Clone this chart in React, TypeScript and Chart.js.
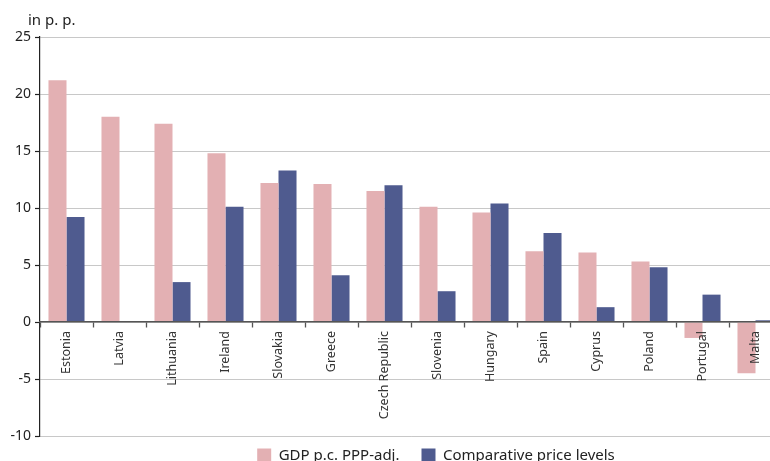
import React, { useEffect, useRef } from "react";
import { Chart, registerables } from "chart.js";

Chart.register(...registerables);

const categories = [
  "Estonia", "Latvia", "Lithuania", "Ireland", "Slovakia", "Greece", "Czech Republic",
  "Slovenia", "Hungary", "Spain", "Cyprus", "Poland", "Portugal", "Malta",
];
const gdpValues = [21.2, 18.0, 17.4, 14.8, 12.2, 12.1, 11.5, 10.1, 9.6, 6.2, 6.1, 5.3, -1.4, -4.5];
const priceValues = [9.2, null, 3.5, 10.1, 13.3, 4.1, 12.0, 2.7, 10.4, 7.8, 1.3, 4.8, 2.4, 0.15];
const seriesNames = ["GDP p.c. PPP-adj.", "Comparative price levels"];
const yTicks = [-10, -5, 0, 5, 10, 15, 20, 25];
const unitLabel = "in p. p.";

const FONT = "'Noto Sans', 'DejaVu Sans', sans-serif";

const unitLabelPlugin = {
  id: "unitLabel",
  afterDraw(chart: any) {
    const { ctx, chartArea } = chart;
    ctx.save();
    ctx.font = `15px ${FONT}`;
    ctx.fillStyle = "#222";
    ctx.textAlign = "left";
    ctx.textBaseline = "alphabetic";
    ctx.fillText(unitLabel, chartArea.left - 12, chartArea.top - 12);
    ctx.restore();
  },
};

const legendShiftPlugin = {
  id: "legendShift",
  afterLayout(chart: any) {
    const l = chart.legend;
    if (l) {
      l.left += 45;
      l.right += 45;
      l.top -= 10;
      l.bottom -= 10;
    }
  },
};

export default function App() {
  const ref = useRef<HTMLCanvasElement | null>(null);
  useEffect(() => {
    if (!ref.current) return;
    const chart = new Chart(ref.current, {
      type: "bar",
      data: {
        labels: categories,
        datasets: [
          { label: seriesNames[0], data: gdpValues, backgroundColor: "#e3b0b3", borderWidth: 0 },
          { label: seriesNames[1], data: priceValues as any, backgroundColor: "#4f5b8f", borderWidth: 0 },
        ],
      },
      options: {
        responsive: false,
        animation: false,
        devicePixelRatio: 1,
        layout: { padding: { top: 37, left: 0, right: 0, bottom: 0 } },
        datasets: { bar: { categoryPercentage: 0.68, barPercentage: 1.0 } },
        plugins: {
          title: { display: false },
          tooltip: { enabled: false },
          legend: {
            position: "bottom",
            labels: {
              boxWidth: 14,
              boxHeight: 14,
              padding: 22,
              color: "#222",
              font: { family: FONT, size: 15 },
            },
          },
        },
        scales: {
          x: {
            type: "category",
            position: { y: 0 } as any,
            offset: true,
            grid: {
              display: true,
              drawOnChartArea: false,
              drawTicks: true,
              tickLength: 5,
              offset: true,
              color: "#555",
              tickColor: "#555",
              tickWidth: 1.3,
              z: 1,
            },
            border: { display: true, color: "#555", width: 1.5, z: 1 },
            ticks: {
              minRotation: 90,
              maxRotation: 90,
              autoSkip: false,
              padding: 4,
              color: "#333",
              z: 1,
              font: { family: FONT, size: 12.5 },
            },
          },
          y: {
            type: "linear",
            position: "left",
            min: -10,
            max: 25,
            afterFit(scale: any) {
              scale.width = 40;
            },
            afterBuildTicks(scale: any) {
              scale.ticks = yTicks.map((v) => ({ value: v }));
            },
            grid: {
              color: "#c8c8c8",
              lineWidth: 1,
              tickLength: 5,
              tickColor: "#222",
              tickWidth: 1.2,
            },
            border: { display: true, color: "#222", width: 1.2 },
            ticks: {
              padding: 4,
              color: "#222",
              font: { family: FONT, size: 14 },
            },
          },
        },
      },
      plugins: [unitLabelPlugin, legendShiftPlugin],
    });
    return () => chart.destroy();
  }, []);

  return (
    <div
      style={{
        position: "fixed",
        left: 0,
        top: 0,
        width: 770,
        height: 461,
        overflow: "hidden",
        background: "#fff",
      }}
    >
      <canvas ref={ref} width={782} height={483} style={{ display: "block", width: 782, height: 483 }} />
    </div>
  );
}
